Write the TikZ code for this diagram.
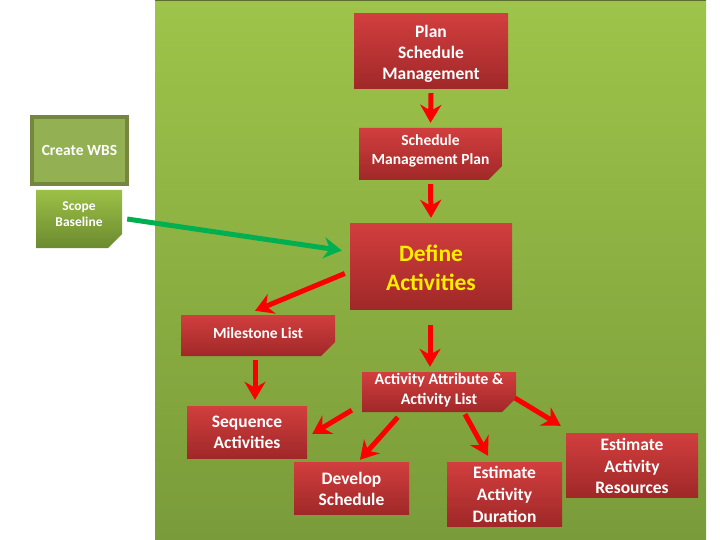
\documentclass[tikz,border=0pt]{standalone}
\usepackage{fontspec}
\setmainfont{Carlito}
\usetikzlibrary{arrows.meta,shapes.misc,calc}
\definecolor{bgtop}{RGB}{158,196,74}
\definecolor{bgbot}{RGB}{122,155,58}
\definecolor{redtop}{RGB}{210,62,62}
\definecolor{redbot}{RGB}{160,40,40}
\definecolor{foldred}{RGB}{105,25,25}
\definecolor{foldgreen}{RGB}{70,95,30}
\definecolor{wbsfill}{RGB}{147,176,83}
\definecolor{wbsborder}{RGB}{117,135,62}
\definecolor{scopetop}{RGB}{155,192,70}
\definecolor{scopebot}{RGB}{108,138,48}
\definecolor{arrred}{RGB}{250,0,0}
\definecolor{arrgreen}{RGB}{0,176,80}
\definecolor{yeltext}{RGB}{255,238,0}
\newcommand{\fillbox}{\phantom{\rule{40pt}{20pt}}}
\tikzset{
  redbox/.style={rectangle, inner sep=0pt, top color=redtop, bottom color=redbot},
  txt/.style={text=white, align=center, inner sep=0pt},
  fs/.style n args={2}{font=\bfseries\fontsize{#1}{#2}\selectfont},
  foldbox/.style={chamfered rectangle, chamfered rectangle corners=south east,
    chamfered rectangle xsep=7pt, chamfered rectangle ysep=7pt, inner sep=0pt,
    path picture={\fill[#1] ([shift={(-7,0)}]path picture bounding box.south east)
      -- ([shift={(0,-7)}]path picture bounding box.south east)
      -- ([shift={(-8.5,-5)}]path picture bounding box.south east) -- cycle;}},
  redarrow/.style={draw=arrred, line width=5pt,
    -{Stealth[length=18pt,width=21pt,inset=6pt]}},
  greenarrow/.style={draw=arrgreen, line width=5pt,
    -{Stealth[length=18pt,width=21pt,inset=6pt]}},
}
\begin{document}
\begin{tikzpicture}[x=1pt,y=-1pt]
\useasboundingbox (0,0) rectangle (720,540);
\fill[white] (0,0) rectangle (720,540);
\shade[top color=bgtop, bottom color=bgbot] (155,0) rectangle (706,540);
\draw[wbsborder!80!black, line width=1pt] (155,0.5) -- (706,0.5);

\node[redbox, minimum width=154, minimum height=75] (plan) at (431,51.5) {};
\node[txt, fs={17.5}{21}] (plant) at ([shift={(0,2)}]plan.center) {Plan\\Schedule\\Management};

\node[redbox, foldbox=foldred, minimum width=143, minimum height=52] (smp) at (430.5,154) {\fillbox};
\node[txt, fs={15.5}{19.5}] (smpt) at ([shift={(0,-3)}]smp.center) {Schedule\\Management Plan};

\node[redbox, minimum width=162, minimum height=85] (define) at (431,266.5) {};
\node[txt, fs={23.5}{29}, text=yeltext] (definet) at ([shift={(0,1)}]define.center) {Define\\Activities};

\node[redbox, foldbox=foldred, minimum width=154, minimum height=41] (milestone) at (258,335.5) {\fillbox};
\node[txt, fs={15.5}{19}] (milestonet) at ([shift={(0,-2)}]milestone.center) {Milestone List};

\node[redbox, minimum width=120, minimum height=52] (sequence) at (247,432) {};
\node[txt, fs={17.5}{21}] (sequencet) at (sequence.center) {Sequence\\Activities};

\node[redbox, minimum width=115, minimum height=52] (develop) at (351.5,488) {};
\node[txt, fs={17.5}{21}] (developt) at ([shift={(0,1)}]develop.center) {Develop\\Schedule};

\node[redbox, foldbox=foldred, minimum width=154, minimum height=40] (aal) at (439,392) {\fillbox};
\node[txt, fs={16}{20}] (aalt) at ([shift={(0,-2)}]aal.center) {Activity Attribute \&\\Activity List};

\node[redbox, minimum width=115, minimum height=64] (duration) at (504.5,494) {};
\node[txt, fs={17.5}{22}] (durationt) at (duration.center) {Estimate\\Activity\\Duration};

\node[redbox, minimum width=132, minimum height=64] (resources) at (632,465) {};
\node[txt, fs={17.5}{21.5}] (resourcest) at ([shift={(0,1)}]resources.center) {Estimate\\Activity\\Resources};

\node[rectangle, draw=wbsborder, line width=4pt, fill=wbsfill, minimum width=95,
  minimum height=67, text=white, fs={15.5}{19}] (wbs) at (79.5,150.5)
  {Create WBS};
\node[rectangle, foldbox=foldgreen, top color=scopetop, bottom color=scopebot,
  minimum width=86, minimum height=58] (scope) at (79,219) {\fillbox};
\node[txt, fs={13.5}{16}] (scopet) at ([shift={(0,-5)}]scope.center) {Scope\\Baseline};

\draw[redarrow] ([shift={(0,4)}]plan.south) -- ([shift={(0,-5)}]smp.north);
\draw[redarrow] ([shift={(0,4)}]smp.south) -- ([shift={(0,-6)}]define.north);
\draw[redarrow] ([shift={(-1,16)}]define.south) -- ([shift={(-9,-5)}]aal.north);
\draw[redarrow] ([shift={(-5,7)}]define.west) -- ([shift={(-3,-4)}]milestone.north);
\draw[redarrow] ([shift={(-3,4)}]milestone.south) -- ([shift={(8,-6)}]sequence.north);
\draw[redarrow] ([shift={(-10,-2)}]aal.south west) -- ([shift={(5,2)}]sequence.east);
\draw[redarrow] ([shift={(36,5)}]aal.south west) -- ([shift={(8.5,-2)}]develop.north);
\draw[redarrow] ([shift={(26,2)}]aal.south) -- ([shift={(-16.5,-6)}]duration.north);
\draw[redarrow] ([shift={(6,-7)}]aal.south east) -- ([shift={(-5,-7)}]resources.north west);
\draw[greenarrow] ([shift={(5,0)}]scope.east) -- ([shift={(-8,-16)}]define.west);
\end{tikzpicture}
\end{document}
